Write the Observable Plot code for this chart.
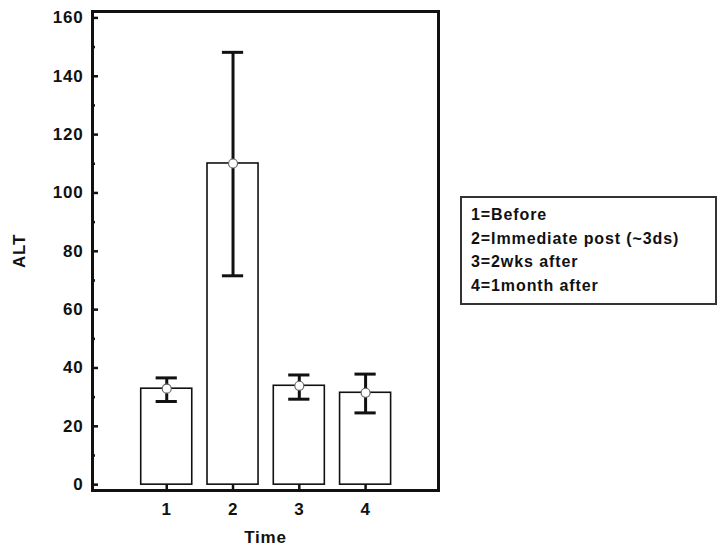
<!DOCTYPE html>
<html>
<head>
<meta charset="utf-8">
<script src="https://cdn.jsdelivr.net/npm/d3@7"></script>
<script src="https://cdn.jsdelivr.net/npm/@observablehq/plot@0.6"></script>
<style>
  body { margin: 0; background: #fff; }
  #wrap { position: relative; width: 717px; height: 551px; overflow: hidden; }
  #wrap svg text { letter-spacing: 0.8px; }
  #legend {
    position: absolute; left: 460px; top: 196px; width: 257px; height: 109px;
    box-sizing: border-box; border: 2px solid #333;
    font: bold 16px "Liberation Sans", Arial, sans-serif; color: #111;
    padding: 5px 0 0 9px; letter-spacing: 0.9px;
  }
  #legend div { line-height: 23.5px; white-space: nowrap; }
</style>
</head>
<body>
<div id="wrap"></div>
<script>
// Data
const times = [1, 2, 3, 4];
const means = [32.9, 110.1, 33.9, 31.5];
const upper = [36.6, 148.2, 37.6, 37.9];
const lower = [28.5, 71.6, 29.3, 24.6];
const yTicks = [0, 20, 40, 60, 80, 100, 120, 140, 160];
const yMinorTicks = [10, 30, 50, 70, 90, 110, 130, 150];
const legendLines = ["1=Before", "2=Immediate post (~3ds)", "3=2wks after", "4=1month after"];
const xLabel = "Time";
const yLabel = "ALT";

const data = times.map((t, i) => ({t, mean: means[i], hi: upper[i], lo: lower[i]}));
const halfBar = 0.385, halfCap = 0.16;
const font = {fontSize: 17, fontWeight: "bold", fill: "#111"};

const chart = Plot.plot({
  width: 717, height: 551,
  marginLeft: 92, marginRight: 279, marginTop: 11, marginBottom: 61,
  style: {fontFamily: "'Liberation Sans', Arial, sans-serif", fontWeight: "bold", fontSize: "17px", color: "#111", background: "white"},
  x: {type: "linear", domain: [-0.12, 5.1]},
  y: {domain: [-2, 162.2]},
  marks: [
    Plot.rectY(data, {x1: d => d.t - halfBar, x2: d => d.t + halfBar, y1: 0, y2: "mean", fill: "white", stroke: "#111", strokeWidth: 1.6}),
    Plot.ruleX(data, {x: "t", y1: "lo", y2: "hi", stroke: "#111", strokeWidth: 3}),
    Plot.ruleY(data, {y: "hi", x1: d => d.t - halfCap, x2: d => d.t + halfCap, stroke: "#111", strokeWidth: 3}),
    Plot.ruleY(data, {y: "lo", x1: d => d.t - halfCap, x2: d => d.t + halfCap, stroke: "#111", strokeWidth: 3}),
    Plot.dot(data, {x: "t", y: "mean", r: 4.5, fill: "white", stroke: "#666", strokeWidth: 1.2}),
    Plot.axisY(yTicks, {tickSize: 6, dx: 6, text: null, label: null, stroke: "#111", strokeWidth: 2.5}),
    Plot.axisY(yMinorTicks, {tickSize: 3, dx: 3, text: null, label: null, stroke: "#111", strokeWidth: 2.5}),
    Plot.axisY(yTicks, {tickSize: 0, tickPadding: 9, label: yLabel, labelAnchor: "center", labelOffset: 80, labelArrow: "none", ...font}),
    Plot.axisX(times, {tickSize: 0, tickPadding: 12, label: xLabel, labelAnchor: "center", labelOffset: 52, labelArrow: "none", ...font}),
    Plot.axisX(times, {tickSize: 6, dy: -6, text: null, label: null, stroke: "#111", strokeWidth: 2.5}),
    Plot.frame({stroke: "#111", strokeWidth: 3})
  ]
});
const wrap = document.getElementById("wrap");
wrap.appendChild(chart);
const legend = document.createElement("div");
legend.id = "legend";
for (const line of legendLines) {
  const d = document.createElement("div");
  d.textContent = line;
  legend.appendChild(d);
}
wrap.appendChild(legend);
</script>
</body>
</html>
